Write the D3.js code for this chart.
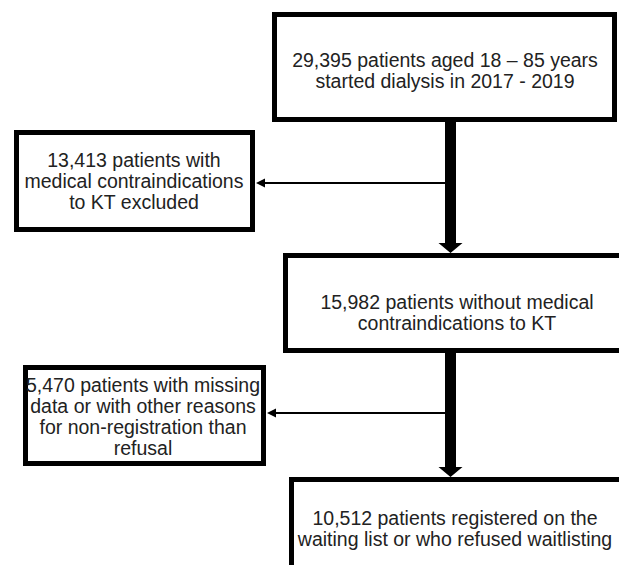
<!DOCTYPE html>
<html>
<head>
<meta charset="utf-8">
<script src="https://cdn.jsdelivr.net/npm/d3@7"></script>
<style>
  html, body { margin: 0; padding: 0; background: #fff; }
  svg { display: block; }
</style>
</head>
<body>
<svg id="chart" width="619" height="565"></svg>
<script>
// flow steps (main column) and exclusions (side column)
const stepIds = ['start', 'noContra', 'registered']
const stepLines = [
  ['29,395 patients aged 18 \u2013 85 years', 'started dialysis in 2017 - 2019'],
  ['15,982 patients without medical', 'contraindications to KT'],
  ['10,512 patients registered on the', 'waiting list or who refused waitlisting']
]
const exclIds = ['contra', 'missing']
const exclLines = [
  ['13,413 patients with', 'medical contraindications', 'to KT excluded'],
  ['5,470 patients with missing', 'data or with other reasons', 'for non-registration than', 'refusal']
]

// layout (outer box edges, px)
const layout = {
  start:      { x0: 272, x1: 617, y0: 12,  y1: 122, tx: 445, ty: 60 },
  noContra:   { x0: 283, x1: 650, y0: 253, y1: 353, tx: 457, ty: 302 },
  registered: { x0: 289, x1: 650, y0: 477, y1: 620, tx: 455, ty: 518 },
  contra:     { x0: 14,  x1: 255, y0: 130, y1: 232, tx: 134, ty: 160, ay: 183 },
  missing:    { x0: 23,  x1: 266, y0: 365, y1: 466, tx: 143, ty: 385, ay: 413 }
}
const spineX = 450.5
const border = 5
const lineH = 21

const svg = d3.select('#chart')
const g = svg.append('g')

const boxes = stepIds.map((id, i) => ({ id, lines: stepLines[i] }))
  .concat(exclIds.map((id, i) => ({ id, lines: exclLines[i] })))

// boxes
g.selectAll('rect.box')
  .data(boxes)
  .enter()
  .append('rect')
  .attr('class', 'box')
  .attr('x', (d) => layout[d.id].x0 + border / 2)
  .attr('y', (d) => layout[d.id].y0 + border / 2)
  .attr('width', (d) => layout[d.id].x1 - layout[d.id].x0 - border)
  .attr('height', (d) => layout[d.id].y1 - layout[d.id].y0 - border)
  .attr('fill', '#fff')
  .attr('stroke', '#000')
  .attr('stroke-width', border)

// labels
const label = g.selectAll('text.label')
  .data(boxes)
  .enter()
  .append('text')
  .attr('class', 'label')
  .attr('text-anchor', 'middle')
  .attr('font-family', 'Liberation Sans, Arial, sans-serif')
  .attr('font-size', 19.5)
  .attr('fill', '#222')

label.selectAll('tspan')
  .data((d) => d.lines.map((t, j) => ({ t, j, id: d.id })))
  .enter()
  .append('tspan')
  .attr('x', (d) => layout[d.id].tx)
  .attr('y', (d) => layout[d.id].ty + d.j * lineH)
  .attr('dy', '0.35em')
  .text((d) => d.t)

// thick down arrows between steps
d3.pairs(stepIds).forEach(([a, b]) => {
  const top = layout[a].y1
  const tip = layout[b].y0
  const headLen = 10
  const headHalf = 12
  const shaftHalf = 5.5
  const path = d3.path()
  path.moveTo(spineX - shaftHalf, top)
  path.lineTo(spineX + shaftHalf, top)
  path.lineTo(spineX + shaftHalf, tip - headLen)
  path.lineTo(spineX + headHalf, tip - headLen)
  path.lineTo(spineX, tip)
  path.lineTo(spineX - headHalf, tip - headLen)
  path.lineTo(spineX - shaftHalf, tip - headLen)
  path.closePath()
  g.append('path').attr('d', path.toString()).attr('fill', '#000')
})

// thin side arrows to exclusion boxes
exclIds.forEach((id) => {
  const box = layout[id]
  const y = box.ay
  const tipX = box.x1 + 1
  g.append('line')
    .attr('x1', spineX)
    .attr('x2', tipX + 6)
    .attr('y1', y)
    .attr('y2', y)
    .attr('stroke', '#000')
    .attr('stroke-width', 2)
  const head = d3.path()
  head.moveTo(tipX, y)
  head.lineTo(tipX + 9, y - 4.5)
  head.lineTo(tipX + 9, y + 4.5)
  head.closePath()
  g.append('path').attr('d', head.toString()).attr('fill', '#000')
})
</script>
</body>
</html>
